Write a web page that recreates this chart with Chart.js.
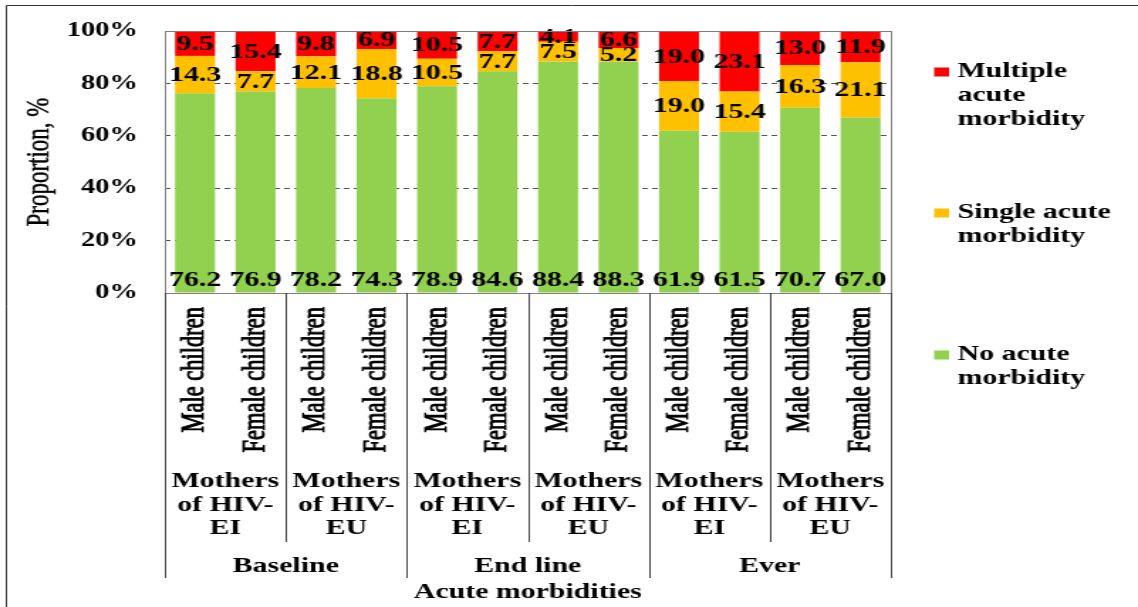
<!DOCTYPE html>
<html>
<head>
<meta charset="utf-8">
<title>Acute morbidities</title>
<script src="https://cdn.jsdelivr.net/npm/chart.js@4.4.1/dist/chart.umd.min.js"></script>
<style>
  html, body { margin: 0; padding: 0; background: #fff; }
</style>
</head>
<body>
<!-- the figure is drawn narrow and widened to the page, giving its wide lettering -->
<canvas id="chart" width="801" height="607" style="display:block;width:1138px;height:607px;"></canvas>
<script>
// Bars, left to right
const categories = [
  'Male children', 'Female children', 'Male children', 'Female children',
  'Male children', 'Female children', 'Male children', 'Female children',
  'Male children', 'Female children', 'Male children', 'Female children'
];
// Mother groups (two bars each), written as wrapped lines
const motherGroups = [
  ['Mothers', 'of HIV-', 'EI'], ['Mothers', 'of HIV-', 'EU'],
  ['Mothers', 'of HIV-', 'EI'], ['Mothers', 'of HIV-', 'EU'],
  ['Mothers', 'of HIV-', 'EI'], ['Mothers', 'of HIV-', 'EU']
];
// Time points (four bars each)
const periods = ['Baseline', 'End line', 'Ever'];

// Percent of children in each morbidity class
const noAcute       = [76.2, 76.9, 78.2, 74.3, 78.9, 84.6, 88.4, 88.3, 61.9, 61.5, 70.7, 67.0];
const singleAcute   = [14.3, 7.7, 12.1, 18.8, 10.5, 7.7, 7.5, 5.2, 19.0, 15.4, 16.3, 21.1];
const multipleAcute = [9.5, 15.4, 9.8, 6.9, 10.5, 7.7, 4.1, 6.6, 19.0, 23.1, 13.0, 11.9];

const seriesNames = ['No acute morbidity', 'Single acute morbidity', 'Multiple acute morbidity'];
const legendLines = [
  ['Multiple', 'acute', 'morbidity'],
  ['Single acute', 'morbidity'],
  ['No acute', 'morbidity']
];
const yTickValues = [0, 20, 40, 60, 80, 100];

const GREEN = '#92D050', ORANGE = '#FFC000', RED = '#FF0000';
const SERIF = '"Liberation Serif", "Times New Roman", serif';

const decorations = {
  id: 'decorations',
  afterDatasetsDraw(chart) {
    const { ctx, chartArea: a } = chart;
    ctx.save();
    // value labels
    ctx.font = 'bold 21px ' + SERIF;
    ctx.fillStyle = '#000';
    ctx.textAlign = 'center';
    chart.data.datasets.forEach((ds, di) => {
      const meta = chart.getDatasetMeta(di);
      meta.data.forEach((bar, i) => {
        const txt = ds.data[i].toFixed(1);
        if (di === 0) {
          ctx.textBaseline = 'alphabetic';
          ctx.fillText(txt, bar.x, bar.base - 7);
        } else {
          ctx.textBaseline = 'middle';
          ctx.fillText(txt, bar.x, (bar.y + bar.base) / 2 + 1);
        }
      });
    });
    // plot frame
    ctx.strokeStyle = '#7f7f7f';
    ctx.lineWidth = 1;
    ctx.strokeRect(Math.round(a.left) + 0.5, Math.round(a.top) + 0.5,
                   Math.round(a.right - a.left), Math.round(a.bottom - a.top));
    ctx.restore();
  },
  afterDraw(chart) {
    const { ctx, chartArea: a, scales } = chart;
    const x = scales.x;
    const n = categories.length;
    const step = (a.right - a.left) / n;
    const edge = i => a.left + step * i;
    ctx.save();

    // outer figure frame (top and left)
    ctx.strokeStyle = '#333';
    ctx.lineWidth = 1;
    ctx.beginPath();
    ctx.moveTo(4.5, 5.5); ctx.lineTo(chart.width, 5.5);
    ctx.moveTo(4.5, 5.5); ctx.lineTo(4.5, chart.height);
    ctx.stroke();

    // table-like separators under the plot
    ctx.strokeStyle = '#404040';
    ctx.beginPath();
    for (let i = 0; i <= n; i += 2) {
      const xx = Math.round(edge(i)) + 0.5;
      const bottom = (i % 4 === 0) ? 578 : 542;
      ctx.moveTo(xx, a.bottom);
      ctx.lineTo(xx, bottom);
    }
    ctx.stroke();

    // y axis title
    ctx.fillStyle = '#000';
    ctx.strokeStyle = '#000';
    ctx.lineWidth = 0.4;
    ctx.font = '23px ' + SERIF;
    ctx.textAlign = 'center';
    ctx.textBaseline = 'middle';
    ctx.save();
    ctx.translate(28, (a.top + a.bottom) / 2);
    ctx.rotate(-Math.PI / 2);
    ctx.fillText('Proportion, %', 0, 0);
    ctx.strokeText('Proportion, %', 0, 0);
    ctx.restore();

    // bar categories, vertical, in a heavy serif
    ctx.font = '22.5px ' + SERIF;
    ctx.lineWidth = 0.8;
    categories.forEach((c, i) => {
      ctx.save();
      ctx.translate(x.getPixelForValue(i), 307);
      ctx.rotate(-Math.PI / 2);
      ctx.textAlign = 'right';
      ctx.textBaseline = 'middle';
      ctx.fillText(c, 0, 0);
      ctx.strokeText(c, 0, 0);
      ctx.restore();
    });

    // mother groups
    ctx.font = 'bold 21px ' + SERIF;
    ctx.textAlign = 'center';
    ctx.textBaseline = 'middle';
    motherGroups.forEach((lines, g) => {
      const cx = (edge(g * 2) + edge(g * 2 + 2)) / 2;
      lines.forEach((t, j) => ctx.fillText(t, cx, 482 + j * 23.5));
    });

    // time points
    periods.forEach((p, g) => {
      const cx = (edge(g * 4) + edge(g * 4 + 4)) / 2;
      ctx.fillText(p, cx, 567);
    });

    // axis title
    ctx.fillText('Acute morbidities', (a.left + a.right) / 2, 593);

    // legend
    const legendColors = [RED, ORANGE, GREEN];
    const legendTops = [72, 213, 355];
    ctx.textAlign = 'left';
    legendLines.forEach((lines, k) => {
      ctx.fillStyle = legendColors[k];
      ctx.fillRect(657.5, legendTops[k] - 4.5, 10.5, 9);
      ctx.fillStyle = '#000';
      lines.forEach((t, j) => ctx.fillText(t, 674, legendTops[k] + j * 24));
    });

    ctx.restore();
  }
};

new Chart(document.getElementById('chart'), {
  type: 'bar',
  data: {
    labels: categories,
    datasets: [
      { label: seriesNames[0], data: noAcute, backgroundColor: GREEN },
      { label: seriesNames[1], data: singleAcute, backgroundColor: ORANGE },
      { label: seriesNames[2], data: multipleAcute, backgroundColor: RED }
    ]
  },
  options: {
    responsive: false,
    animation: false,
    devicePixelRatio: 1,
    layout: { padding: { left: 0, right: 174, top: 27, bottom: 314 } },
    datasets: { bar: { barPercentage: 0.66, categoryPercentage: 1.0 } },
    plugins: { legend: { display: false }, tooltip: { enabled: false } },
    scales: {
      x: { stacked: true, display: false },
      y: {
        stacked: true,
        min: 0,
        max: 100,
        afterBuildTicks(scale) { scale.ticks = yTickValues.map(v => ({ value: v })); },
        afterFit(scale) { scale.width = 116; },
        ticks: {
          padding: 19,
          color: '#000',
          font: { family: SERIF, size: 20, weight: 'bold' },
          callback: v => v + '%'
        },
        grid: {
          drawTicks: false,
          lineWidth: 1,
          color: c => (c.tick && c.tick.value > 0 && c.tick.value < 100) ? '#555' : 'rgba(0,0,0,0)'
        },
        border: { display: false, dash: [4, 3] }
      }
    }
  },
  plugins: [decorations]
});
</script>
</body>
</html>
